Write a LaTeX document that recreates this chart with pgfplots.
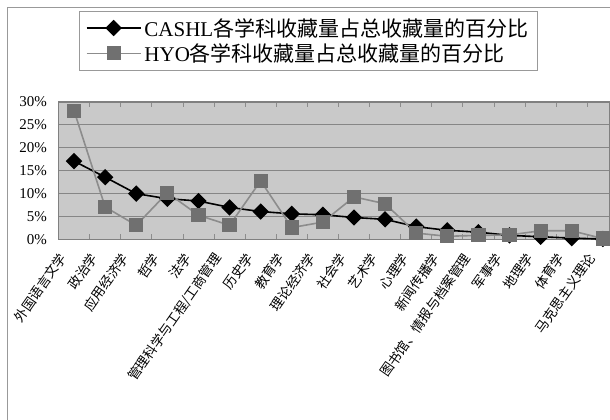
\documentclass[border=0pt]{standalone}
\usepackage{pgfplots}
\pgfplotsset{compat=1.18}
\usepackage{pgfplotstable}
\usepackage{fontspec}
\setmainfont{Liberation Serif}
\newfontfamily\cjk{Noto Sans CJK SC}

\definecolor{plotbg}{HTML}{C9C9C9}
\definecolor{gridc}{HTML}{868686}
\definecolor{hyoline}{HTML}{8C8C8C}
\definecolor{hyomark}{HTML}{707070}

% share of each subject in the collection (%)
\pgfplotstableread{
x cashl hyo
0  17.1 28.1
1  13.6  7.1
2  10.0  3.1
3   8.9 10.2
4   8.4  5.3
5   7.0  3.1
6   6.1 12.8
7   5.6  2.6
8   5.4  3.8
9   4.8  9.3
10  4.4  7.8
11  2.8  1.4
12  2.0  0.7
13  1.6  0.9
14  0.9  1.0
15  0.6  1.9
16  0.3  1.9
17  0.1  0.2
}\datatable

\begin{document}
\begin{tikzpicture}
\useasboundingbox (0,0) rectangle (610bp,420bp);
\draw[black!40, line width=1bp] (7bp,0) -- (7bp,412bp) -- (610bp,412bp);
\begin{axis}[
    at={(58.5bp,180.5bp)}, anchor=south west,
    scale only axis,
    width=551.5bp, height=137.5bp,
    xmin=-0.5, xmax=17.23,
    ymin=0, ymax=30,
    axis background/.style={fill=plotbg},
    axis line style={draw=black!50, line width=1.2bp},
    ytick={0,5,...,30},
    yticklabel={\pgfmathprintnumber{\tick}\%},
    yticklabel style={font=\fontsize{15bp}{17bp}\selectfont, xshift=-8bp},
    /pgf/number format/assume math mode=true,
    ymajorgrids=true,
    grid style={draw=gridc, line width=0.9bp},
    major tick length=0pt,
    xtick=data,
    xticklabels={外国语言文学,政治学,应用经济学,哲学,法学,管理科学与工程/工商管理,历史学,教育学,理论经济学,社会学,艺术学,心理学,新闻传播学,图书馆、情报与档案管理,军事学,地理学,体育学,马克思主义理论},
    xticklabel style={font=\fontsize{13.3bp}{15bp}\selectfont\cjk, rotate=55, anchor=east, inner xsep=19bp},
    minor xtick={0.5,1.5,...,16.5},
    minor tick length=5bp,
    tick align=inside,
    minor tick style={draw=black!45, line width=0.8bp},
    legend style={
        at={(axis description cs:0.4534,1.662)}, anchor=north,
        draw=black!40, line width=0.8bp,
        font=\fontsize{21bp}{24bp}\selectfont,
        nodes={inner sep=3bp},
        inner xsep=6bp, inner ysep=4bp,
        legend cell align=left,
    },
    legend image code/.code={
        \draw[mark repeat=2, mark phase=2, #1] plot coordinates {(0bp,0bp) (27bp,0bp) (54bp,0bp)};
    },
]
\addplot[black, line width=1.6bp, mark=square*, mark size=5bp,
    mark options={rotate=45, fill=black, draw=black}]
    table[x=x, y=cashl] {\datatable};
\addlegendentry{CASHL{\cjk 各学科收藏量占总收藏量的百分比}}
\addplot[hyoline, line width=1.6bp, mark=square*, mark size=6.3bp,
    mark options={fill=hyomark, draw=hyomark}]
    table[x=x, y=hyo] {\datatable};
\addlegendentry{HYO{\cjk 各学科收藏量占总收藏量的百分比}}
\end{axis}
\end{tikzpicture}
\end{document}
